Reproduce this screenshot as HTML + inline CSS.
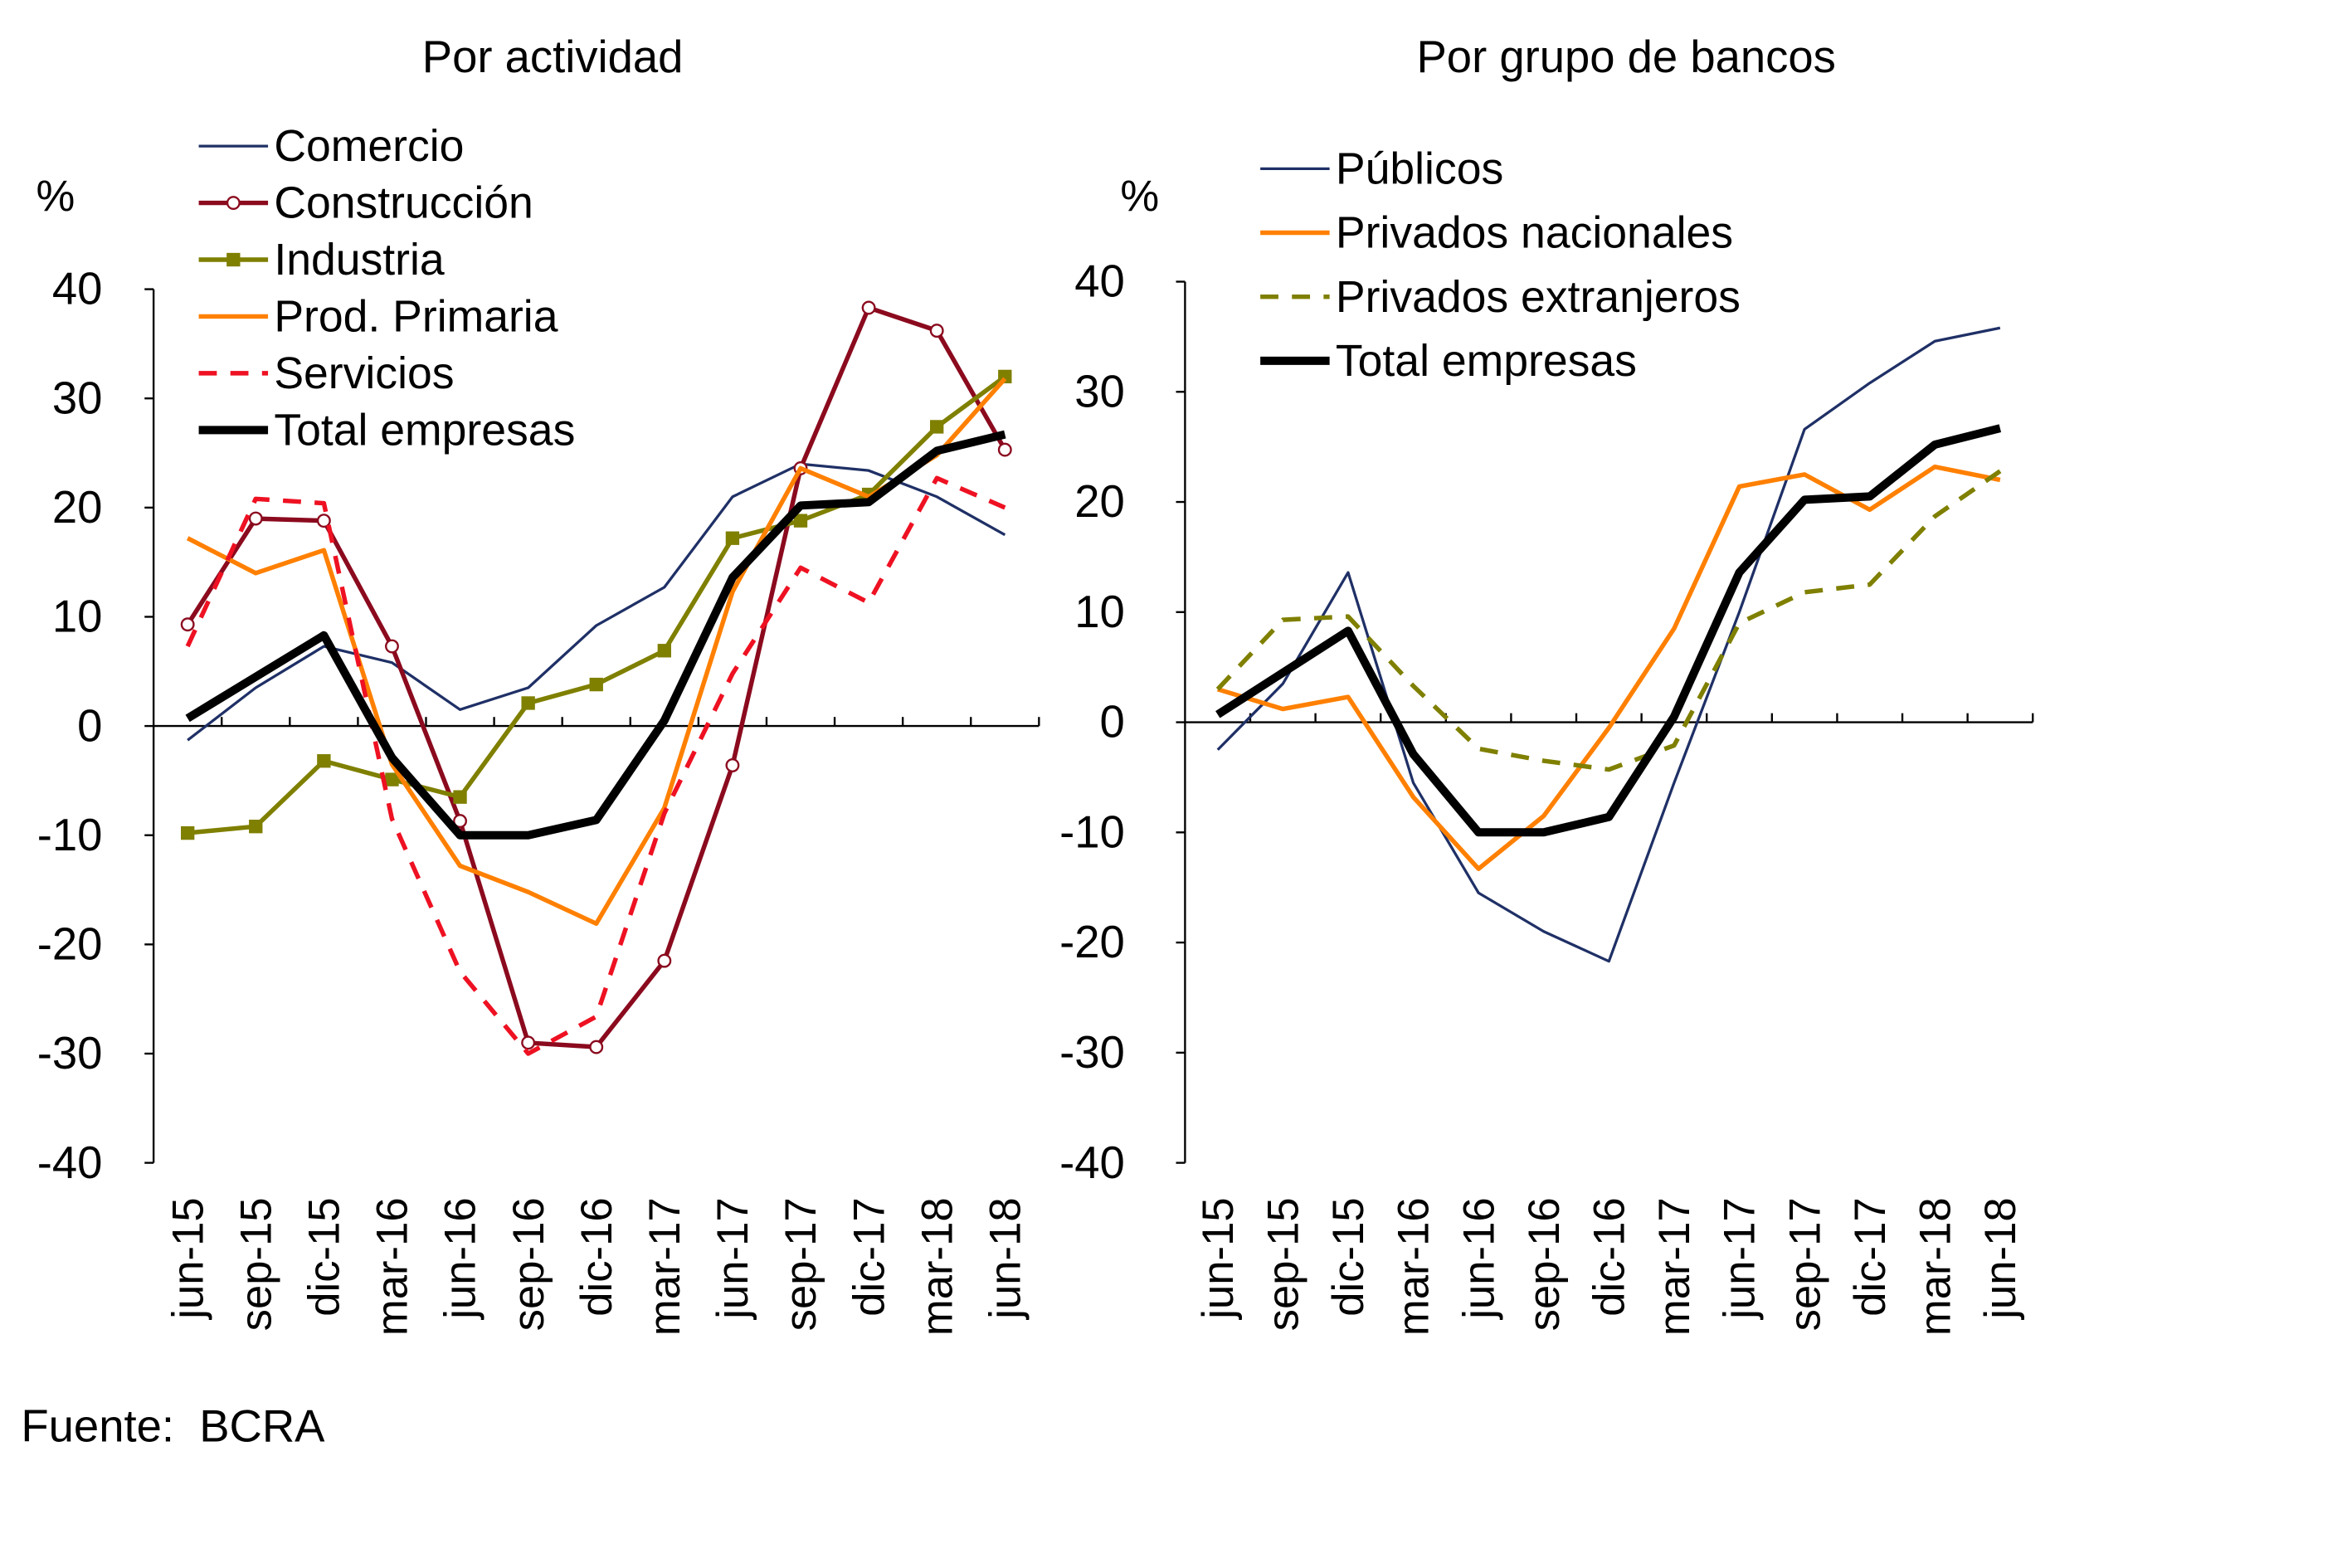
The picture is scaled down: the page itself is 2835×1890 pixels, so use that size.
<!DOCTYPE html>
<html><head><meta charset="utf-8"><style>
html,body{margin:0;padding:0;background:#fff}
svg{display:block}
text{font-family:"Liberation Sans",sans-serif;fill:#000}
</style></head><body>
<svg id="s" width="2835" height="1890" viewBox="0 0 1562 1041" preserveAspectRatio="none" xmlns="http://www.w3.org/2000/svg"></svg>
<script>
const s=document.getElementById('s');let h='';
const cats=['jun-15','sep-15','dic-15','mar-16','jun-16','sep-16','dic-16','mar-17','jun-17','sep-17','dic-17','mar-18','jun-18'];
function chart(ax,x1,yTop,yBot,series,title,tx,gap){
  const y0=(yTop+yBot)/2, per=(yBot-yTop)/80, w=(x1-ax)/13;
  const X=i=>ax+w/2+i*w, Y=v=>y0-v*per;
  h+=`<text x="${tx}" y="48" font-size="30" text-anchor="middle">${title}</text>`;
  h+=`<line x1="${ax}" y1="${yTop}" x2="${ax}" y2="${yBot}" stroke="#000" stroke-width="1.3"/>`;
  for(let v=-40;v<=40;v+=10){h+=`<line x1="${ax-6}" y1="${Y(v)}" x2="${ax}" y2="${Y(v)}" stroke="#000" stroke-width="1.3"/>`;
    h+=`<text x="${ax-gap}" y="${Y(v)+10}" font-size="30" text-anchor="end">${v}</text>`;}
  h+=`<line x1="${ax}" y1="${y0}" x2="${x1}" y2="${y0}" stroke="#000" stroke-width="1.3"/>`;
  for(let i=1;i<=13;i++)h+=`<line x1="${ax+i*w}" y1="${y0}" x2="${ax+i*w}" y2="${y0-6}" stroke="#000" stroke-width="1.3"/>`;
  cats.forEach((c,i)=>{h+=`<text transform="translate(${X(i)+10},795) rotate(-90)" font-size="29" text-anchor="end">${c}</text>`});
  series.forEach(sr=>{
    const pts=sr.d.map((v,i)=>X(i).toFixed(1)+','+Y(v).toFixed(1)).join(' ');
    h+=`<polyline points="${pts}" fill="none" stroke="${sr.c}" stroke-width="${sr.w}" ${sr.dash?'stroke-dasharray="'+sr.dash+'"':''} stroke-linejoin="round"/>`;
    if(sr.m==='o')sr.d.forEach((v,i)=>h+=`<circle cx="${X(i)}" cy="${Y(v)}" r="4" fill="#fff" stroke="${sr.c}" stroke-width="1.3"/>`);
    if(sr.m==='s')sr.d.forEach((v,i)=>h+=`<rect x="${X(i)-4.5}" y="${Y(v)-4.5}" width="9" height="9" fill="${sr.c}"/>`);
  });
}
const tot=[0.7,4.5,8.3,-2.9,-10,-10,-8.6,0.5,13.6,20.2,20.5,25.2,26.7];
const L=[
{n:'Comercio',c:'#1f3066',w:1.8,d:[-1.3,3.5,7.3,5.8,1.5,3.5,9.2,12.7,21,24,23.4,21,17.5]},
{n:'Construcción',c:'#8b0a1e',w:3,m:'o',d:[9.3,19,18.8,7.3,-8.7,-29,-29.4,-21.5,-3.6,23.6,38.3,36.2,25.3]},
{n:'Industria',c:'#7f7f00',w:3,m:'s',d:[-9.8,-9.2,-3.2,-4.9,-6.5,2.1,3.8,6.9,17.2,18.8,21.2,27.4,32]},
{n:'Prod. Primaria',c:'#ff8000',w:3,d:[17.2,14,16.1,-3.5,-12.8,-15.2,-18.1,-7.5,12.3,23.6,21,24.8,31.8]},
{n:'Servicios',c:'#ee1122',w:3,dash:'12,9',d:[7.3,20.8,20.4,-8.5,-22.5,-30,-26.6,-8,4.8,14.5,11.3,22.7,20]},
{n:'Total empresas',c:'#000',w:5.5,d:tot}];
const R=[
{n:'Públicos',c:'#1f3066',w:1.8,d:[-2.5,3.5,13.6,-5.5,-15.5,-19,-21.7,-5.5,10,26.6,30.8,34.6,35.8]},
{n:'Privados nacionales',c:'#ff8000',w:3,d:[3,1.2,2.3,-6.8,-13.3,-8.5,-0.5,8.5,21.4,22.5,19.3,23.2,22]},
{n:'Privados extranjeros',c:'#7f7f00',w:3,dash:'12,9',d:[3,9.3,9.6,3.3,-2.4,-3.5,-4.3,-2.1,9,11.8,12.5,18.7,22.8]},
{n:'Total empresas',c:'#000',w:5.5,d:tot}];
chart(102,690,192,772,L,'Por actividad',367,34);
chart(787,1350,187,772,R,'Por grupo de bancos',1080,40);
h+=`<text x="24" y="140" font-size="29">%</text><text x="744" y="140" font-size="29">%</text>`;
function legend(x,y0,dy,items){items.forEach((sr,i)=>{const y=y0+i*dy;
  h+=`<line x1="${x}" y1="${y}" x2="${x+46}" y2="${y}" stroke="${sr.c}" stroke-width="${sr.w}" ${sr.dash?'stroke-dasharray="12,9"':''}/>`;
  if(sr.m==='o')h+=`<circle cx="${x+23}" cy="${y}" r="4" fill="#fff" stroke="${sr.c}" stroke-width="1.3"/>`;
  if(sr.m==='s')h+=`<rect x="${x+18.5}" y="${y-4.5}" width="9" height="9" fill="${sr.c}"/>`;
  h+=`<text x="${x+50}" y="${y+10}" font-size="29.5">${sr.n}</text>`;});}
legend(132,97,37.7,L);
legend(837,112,42.5,R);
h+=`<text x="14" y="957" font-size="30" style="white-space:pre">Fuente:  BCRA</text>`;
s.innerHTML=h;
</script>
</body></html>
